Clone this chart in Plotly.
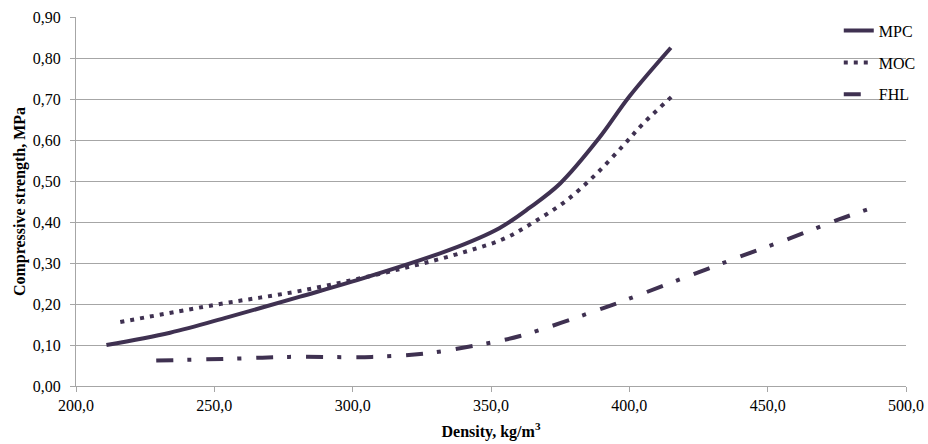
import plotly.graph_objects as go

# Data
mpc_x = [211, 234, 255, 281, 300, 335, 353, 364, 375, 389, 400, 415]
mpc_y = [0.100, 0.130, 0.168, 0.218, 0.255, 0.332, 0.385, 0.435, 0.494, 0.604, 0.706, 0.825]

moc_x = [216, 252, 281, 317, 341, 355, 366, 377, 388, 398, 405, 416]
moc_y = [0.156, 0.200, 0.232, 0.285, 0.328, 0.360, 0.402, 0.451, 0.517, 0.588, 0.640, 0.710]

fhl_x = [229, 258, 277, 307, 327, 347, 360.5, 390.6, 402.7, 421, 439, 458, 476, 489]
fhl_y = [0.062, 0.067, 0.071, 0.071, 0.080, 0.102, 0.122, 0.190, 0.220, 0.267, 0.313, 0.360, 0.407, 0.437]

x_ticks = [200, 250, 300, 350, 400, 450, 500]
y_ticks = [0.0, 0.1, 0.2, 0.3, 0.4, 0.5, 0.6, 0.7, 0.8, 0.9]

COLOR = "#3f3151"
GRID = "#a6a6a6"
FONT = "Liberation Serif"

fig = go.Figure()
fig.add_trace(go.Scatter(x=mpc_x, y=mpc_y, name="MPC", mode="lines", legendgroup="a",
                         line=dict(color=COLOR, width=4, shape="spline", smoothing=1)))
fig.add_trace(go.Scatter(x=moc_x, y=moc_y, name="MOC", mode="lines", legendgroup="b",
                         line=dict(color=COLOR, width=4, dash="4px,6px", shape="spline", smoothing=1)))
fig.add_trace(go.Scatter(x=fhl_x, y=fhl_y, name="FHL", mode="lines", legendgroup="c",
                         line=dict(color=COLOR, width=4, dash="17px,14px,4px,15px", shape="spline", smoothing=1)))

fig.update_layout(
    width=928, height=444,
    margin=dict(l=76, r=22, t=17, b=58, autoexpand=False),
    paper_bgcolor="white", plot_bgcolor="white",
    separators=",.",
    font=dict(family=FONT, size=16, color="#000000"),
    showlegend=True,
    legend=dict(x=0.919, y=1.009, xanchor="left", yanchor="top",
                bgcolor="rgba(0,0,0,0)", borderwidth=0,
                traceorder="grouped", tracegroupgap=8,
                font=dict(family=FONT, size=16, color="#000000")),
)
fig.update_xaxes(range=[200, 500], tickvals=x_ticks, tickformat=".1f",
                 showgrid=False, showline=True, linecolor=GRID, linewidth=1,
                 ticks="outside", ticklen=5, tickcolor=GRID, zeroline=False,
                 automargin=False,
                 tickfont=dict(family=FONT, size=16),
                 title=dict(text="<b>Density, kg/m<sup>3</sup></b>", standoff=12,
                            font=dict(family=FONT, size=16)))
fig.update_yaxes(range=[0, 0.9], tickvals=y_ticks, tickformat=".2f",
                 showgrid=True, gridcolor=GRID, gridwidth=1,
                 showline=True, linecolor=GRID, linewidth=1,
                 ticks="outside", ticklen=5, tickcolor=GRID, zeroline=False,
                 automargin=False, ticklabelstandoff=6,
                 tickfont=dict(family=FONT, size=16),
                 title=dict(text="<b>Compressive strength, MPa</b>", standoff=3,
                            font=dict(family=FONT, size=16)))

fig.write_html("out.html")
